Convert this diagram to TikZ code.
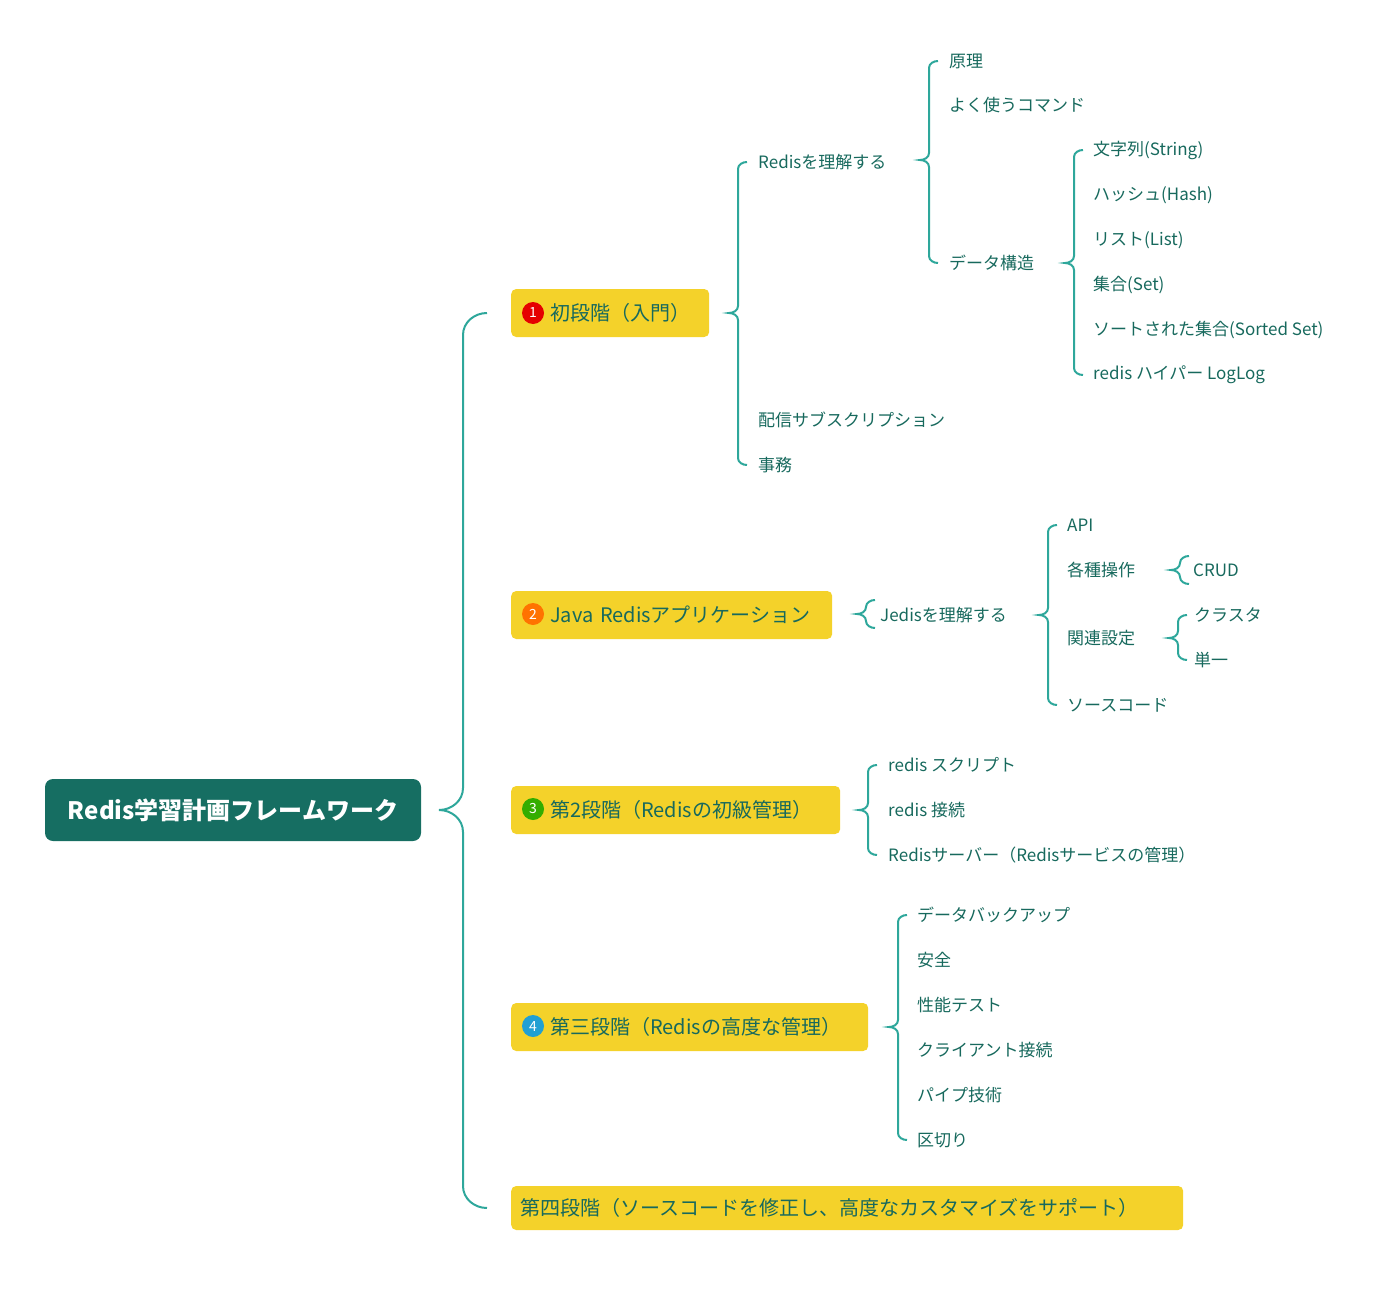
\documentclass[tikz,border=0pt]{standalone}
\usepackage{fontspec}
\setmainfont{Noto Sans CJK JP}
\definecolor{rootbg}{HTML}{166E62}
\definecolor{txt}{HTML}{17695D}
\definecolor{brc}{HTML}{2EA79B}
\definecolor{ybox}{HTML}{F4D22A}
\tikzset{
  stage/.style={fill=ybox,rounded corners=5pt,text=txt,anchor=west,inner xsep=0pt,align=left,minimum height=48pt,font=\fontsize{20}{24}\selectfont},
  leaf/.style={anchor=west,text=txt,inner sep=0pt,font=\fontsize{17}{20}\selectfont},
  num/.style={circle,inner sep=0pt,minimum size=22pt,text=white,font=\fontsize{14}{14}\selectfont}
}
% curly bracket: x, top, mid, bottom, radius
\newcommand{\mbrace}[5][7]{\draw[brc,line width=2pt]
  (#2+#1+2,#3) to[out=180,in=90] (#2,#3+#1) -- (#2,#4-#1) to[out=270,in=0] (#2-#1-2,#4)
  to[out=0,in=90] (#2,#4+#1) -- (#2,#5-#1) to[out=270,in=180] (#2+#1+2,#5);}
\begin{document}
\begin{tikzpicture}[x=1pt,y=-1pt]
\useasboundingbox (0,0) rectangle (1392,1292);
\node[fill=rootbg,rounded corners=8pt,text=white,minimum width=376pt,minimum height=62pt,font=\bfseries\fontsize{24}{28}\selectfont] (root) at (233,810) {Redis学習計画フレームワーク};
\mbrace[22]{463}{313}{810}{1208}
% stages
\node[stage,text width=198pt] (s1) at (511,313) {\hspace{39pt}初段階（入門）};
\node[num,fill=red!90!black] at (533,313) {1};
\node[stage,text width=321pt] (s2) at (511,615) {\hspace{39pt}Java Redisアプリケーション};
\node[num,fill=orange!90!red] at (533,614) {2};
\node[stage,text width=329pt] (s3) at (511,810) {\hspace{39pt}第2段階（Redisの初級管理）};
\node[num,fill=green!60!black!80!yellow] at (533,809) {3};
\node[stage,text width=357pt] (s4) at (511,1027) {\hspace{39pt}第三段階（Redisの高度な管理）};
\node[num,fill=cyan!70!teal] at (533,1026) {4};
\node[stage,text width=672pt,minimum height=44pt] (s5) at (511,1208) {\hspace{9pt}第四段階（ソースコードを修正し、高度なカスタマイズをサポート）};
% stage 1
\mbrace{738}{162}{313}{465}
\node[leaf] (r1) at (758,162) {Redisを理解する};
\node[leaf] (r2) at (758,420) {配信サブスクリプション};
\node[leaf] (r3) at (758,465) {事務};
\mbrace{929}{61}{160}{263}
\node[leaf] (p1) at (949,61) {原理};
\node[leaf] (p2) at (949,105) {よく使うコマンド};
\node[leaf] (p3) at (949,263) {データ構造};
\mbrace{1074}{150}{263}{375}
\node[leaf] (d1) at (1093,150) {文字列(String)};
\node[leaf] (d2) at (1093,195) {ハッシュ(Hash)};
\node[leaf] (d3) at (1093,240) {リスト(List)};
\node[leaf] (d4) at (1093,285) {集合(Set)};
\node[leaf] (d5) at (1093,330) {ソートされた集合(Sorted Set)};
\node[leaf] (d6) at (1093,375) {redis ハイパー LogLog};
% stage 2
\mbrace{866}{600}{614}{628}
\node[leaf] (j1) at (880,615) {Jedisを理解する};
\mbrace{1048}{525}{615}{705}
\node[leaf] (j2) at (1067,525) {API};
\node[leaf] (j3) at (1067,570) {各種操作};
\node[leaf] (j4) at (1067,638) {関連設定};
\node[leaf] (j5) at (1067,705) {ソースコード};
\mbrace{1180}{556}{570}{584}
\node[leaf] (c1) at (1193,570) {CRUD};
\mbrace{1178}{615}{638}{660}
\node[leaf] (c2) at (1194,615) {クラスタ};
\node[leaf] (c3) at (1194,660) {単一};
% stage 3
\mbrace{868}{765}{810}{855}
\node[leaf] (m1) at (888,765) {redis スクリプト};
\node[leaf] (m2) at (888,810) {redis 接続};
\node[leaf] (m3) at (888,855) {Redisサーバー（Redisサービスの管理）};
% stage 4
\mbrace{898}{915}{1027}{1140}
\node[leaf] (a1) at (917,915) {データバックアップ};
\node[leaf] (a2) at (917,960) {安全};
\node[leaf] (a3) at (917,1005) {性能テスト};
\node[leaf] (a4) at (917,1050) {クライアント接続};
\node[leaf] (a5) at (917,1095) {パイプ技術};
\node[leaf] (a6) at (917,1140) {区切り};
\end{tikzpicture}
\end{document}
